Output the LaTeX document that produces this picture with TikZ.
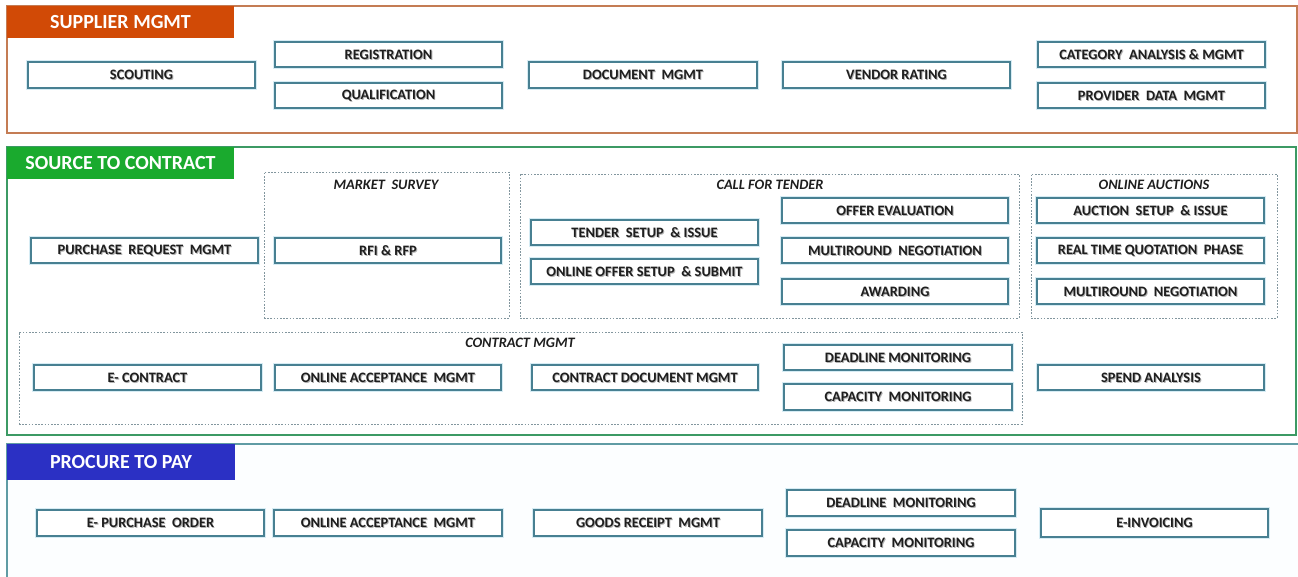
\documentclass[tikz,border=0pt]{standalone}
\usepackage{fontspec}
\setmainfont{Carlito}
\usetikzlibrary{fit}
\definecolor{boxc}{RGB}{72,128,146}
\definecolor{glowc}{RGB}{214,236,244}
\definecolor{textc}{RGB}{30,30,30}
\definecolor{orangeh}{RGB}{209,74,6}
\definecolor{greenh}{RGB}{26,170,46}
\definecolor{blueh}{RGB}{43,48,196}
\definecolor{orangel}{RGB}{196,124,84}
\definecolor{greenl}{RGB}{60,154,100}
\definecolor{teall}{RGB}{96,156,164}
\definecolor{dashc}{RGB}{130,150,158}
\tikzset{
  item/.style={draw=boxc, line width=0.8pt, fill=white, inner sep=0pt,
    preaction={draw=glowc, line width=3.5pt}},
  itemtext/.style={font=\fontsize{10.8}{12}\selectfont\bfseries, text=textc, inner sep=0pt},
  itemshadow/.style={font=\fontsize{10.8}{12}\selectfont\bfseries, text=black, opacity=0.3, inner sep=0pt},
  header/.style={draw=none, inner sep=0pt},
  headertext/.style={inner sep=0pt, text=white, font=\fontsize{15}{17}\selectfont\bfseries},
  group/.style={draw=dashc, line width=0.6pt, dash pattern=on 1.2pt off 1.2pt, inner sep=0pt},
  grouplabel/.style={font=\fontsize{10.8}{12}\selectfont\bfseries\itshape, text=textc, inner sep=0pt},
  section/.style={line width=0.9pt, fill=white, inner sep=0pt}
}
\newcommand\itm[6]{%
  \node[item, fit={(#2,#3)(#4,#5)}] (#1) {};
  \node[itemshadow] at ([xshift=0.7pt,yshift=-0.9pt]#1.center) {#6};
  \node[itemtext] (#1-t) at (#1.center) {#6};
}
\begin{document}
\begin{tikzpicture}[x=0.75pt, y=-0.75pt]
\useasboundingbox (0,0) rectangle (1298,576);
\fill[white] (0,0) rectangle (1298,576);

% sections
\node[section, draw=orangel, fit={(7,6)(1297,133)}] (s1) {};
\node[section, draw=greenl, fit={(7,147)(1296,435)}] (s2) {};
\node[section, draw=teall, fill={rgb,255:red,252;green,254;blue,255}, fit={(7,444)(1310,590)}] (s3) {};

% headers
\node[header, fill=orangeh, fit={(7,6)(234,38)}] (h1) {};
\node[headertext] at (h1.center) {SUPPLIER MGMT};
\node[header, fill=greenh, fit={(7,147)(234,179)}] (h2) {};
\node[headertext] at (h2.center) {SOURCE TO CONTRACT};
\node[header, fill=blueh, fit={(7,444)(235,480)}] (h3) {};
\node[headertext] at (h3.center) {PROCURE TO PAY};

% supplier mgmt
\itm{scout}{28}{62}{255}{88}{SCOUTING}
\itm{reg}{275}{42}{502}{67}{REGISTRATION}
\itm{qual}{275}{83}{502}{108}{QUALIFICATION}
\itm{doc}{529}{62}{757}{88}{DOCUMENT\ \ MGMT}
\itm{vendor}{783}{62}{1010}{88}{VENDOR RATING}
\itm{cat}{1038}{42}{1265}{67}{CATEGORY\ \ ANALYSIS \& MGMT}
\itm{prov}{1038}{83}{1265}{108}{PROVIDER\ \ DATA\ \ MGMT}

% source to contract groups
\node[group, fit={(264,172)(509,318)}] (ms) {};
\node[grouplabel] (msl) at (386,185) {MARKET\ \ SURVEY};
\node[group, fit={(520,174)(1019,318)}] (cft) {};
\node[grouplabel] (cftl) at (770,185) {CALL FOR TENDER};
\node[group, fit={(1031,174)(1277,318)}] (oa) {};
\node[grouplabel] (oal) at (1154,185) {ONLINE AUCTIONS};
\node[group, fit={(19,332)(1022,424)}] (cmg) {};
\node[grouplabel] (cmgl) at (520,343) {CONTRACT MGMT};

\itm{prm}{31}{238}{258}{263}{PURCHASE\ \ REQUEST\ \ MGMT}
\itm{rfi}{275}{238}{501}{263}{RFI \& RFP}
\itm{tsi}{531}{220}{758}{245}{TENDER\ \ SETUP\ \ \& ISSUE}
\itm{oos}{531}{259}{758}{284}{ONLINE OFFER SETUP\ \ \& SUBMIT}
\itm{oe}{782}{198}{1008}{223}{OFFER EVALUATION}
\itm{mn1}{782}{238}{1008}{263}{MULTIROUND\ \ NEGOTIATION}
\itm{aw}{782}{279}{1008}{304}{AWARDING}
\itm{asi}{1037}{198}{1264}{223}{AUCTION\ \ SETUP\ \ \& ISSUE}
\itm{rtq}{1037}{238}{1264}{263}{REAL TIME QUOTATION\ \ PHASE}
\itm{mn2}{1037}{279}{1264}{304}{MULTIROUND\ \ NEGOTIATION}
\itm{econ}{34}{365}{261}{390}{E- CONTRACT}
\itm{oam1}{275}{365}{501}{390}{ONLINE ACCEPTANCE\ \ MGMT}
\itm{cdm}{532}{365}{758}{390}{CONTRACT DOCUMENT MGMT}
\itm{dm1}{784}{345}{1012}{370}{DEADLINE MONITORING}
\itm{cm1}{784}{384}{1012}{410}{CAPACITY\ \ MONITORING}
\itm{spend}{1038}{365}{1264}{390}{SPEND ANALYSIS}

% procure to pay
\itm{epo}{37}{510}{264}{536}{E- PURCHASE\ \ ORDER}
\itm{oam2}{274}{510}{502}{536}{ONLINE ACCEPTANCE\ \ MGMT}
\itm{grm}{534}{510}{762}{536}{GOODS RECEIPT\ \ MGMT}
\itm{dm2}{787}{490}{1015}{516}{DEADLINE\ \ MONITORING}
\itm{cm2}{787}{530}{1015}{556}{CAPACITY\ \ MONITORING}
\itm{einv}{1041}{509}{1268}{537}{E-INVOICING}
\end{tikzpicture}
\end{document}
